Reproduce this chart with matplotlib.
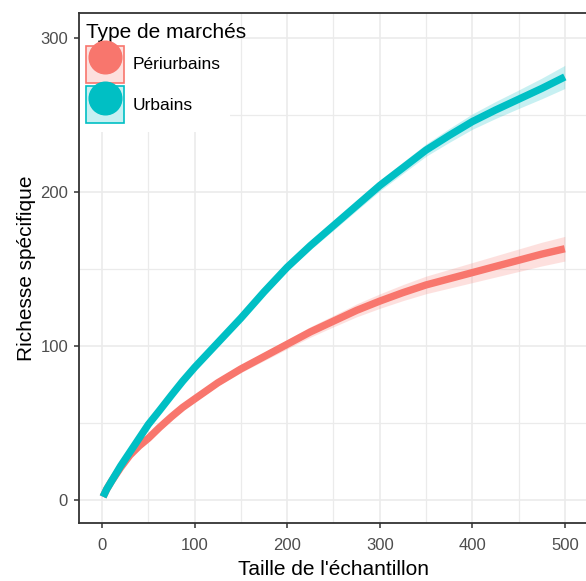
import numpy as np
import matplotlib
matplotlib.use("Agg")
import matplotlib.pyplot as plt
from matplotlib.patches import Patch, Rectangle
from matplotlib.lines import Line2D
from matplotlib.ticker import MultipleLocator

plt.rcParams['font.family'] = ['Liberation Sans', 'DejaVu Sans']

# rarefaction curves
sizes = [1, 5, 10, 20, 30, 40, 50, 62, 75, 87, 100, 125, 150, 175, 200,
         225, 250, 275, 300, 325, 350, 375, 400, 425, 450, 475, 500]

urb_mean = [2, 7, 12, 22, 31, 40, 49, 58, 68, 77, 86, 102, 118, 135, 151,
            165, 178, 191, 204, 215.5, 227, 236.5, 245.5, 253, 260, 267, 274.5]
urb_low = [2, 7, 12, 21.8, 30.7, 39.6, 48.5, 57.4, 67.2, 76, 84.8, 100.5, 116.2, 133, 148.5,
           162.3, 175, 187.8, 200.5, 211.8, 223, 232, 240.5, 247.5, 254, 260.3, 267]
urb_high = [2, 7, 12, 22.2, 31.3, 40.4, 49.5, 58.6, 68.8, 78, 87.2, 103.5, 119.8, 137, 153.5,
            167.7, 181, 194.2, 207.5, 219.2, 231, 241, 250.5, 258.5, 266, 273.7, 282]

peri_mean = [2, 7, 12, 21, 29, 35, 40, 47, 54, 60, 65.5, 76, 85, 93, 101,
             109, 116, 123, 129, 134.5, 139.5, 143.5, 147.5, 151.5, 155.5, 159.5, 163]
peri_low = [2, 7, 12, 20.7, 28.5, 34.4, 39.2, 46, 52.8, 58.6, 63.8, 74, 82.6, 90.3, 98,
            105.6, 112.3, 118.8, 124.3, 129.3, 133.8, 137.4, 141, 144.6, 148.2, 151.8, 155]
peri_high = [2, 7, 12, 21.3, 29.5, 35.6, 40.8, 48, 55.2, 61.4, 67.2, 78, 87.4, 95.7, 104,
             112.4, 119.7, 127.2, 133.7, 139.7, 145.2, 149.6, 154, 158.4, 162.8, 167.2, 171]

groups = ["Périurbains", "Urbains"]
colors = ["#F8766D", "#00BFC4"]

fig = plt.figure(figsize=(5.86, 5.81), dpi=100)
ax = fig.add_axes([79/586, 58/581, 508/586, 510/581])

ax.fill_between(sizes, peri_low, peri_high, color=colors[0], alpha=0.22, lw=0, zorder=2)
ax.fill_between(sizes, urb_low, urb_high, color=colors[1], alpha=0.22, lw=0, zorder=2)
ax.plot(sizes, peri_mean, color=colors[0], lw=5.3, solid_capstyle='butt', zorder=3)
ax.plot(sizes, urb_mean, color=colors[1], lw=5.3, solid_capstyle='butt', zorder=4)

ax.set_xlim(-25, 524)
ax.set_ylim(-15, 316)
ax.xaxis.set_major_locator(MultipleLocator(100))
ax.xaxis.set_minor_locator(MultipleLocator(50))
ax.yaxis.set_major_locator(MultipleLocator(100))
ax.yaxis.set_minor_locator(MultipleLocator(50))

ax.grid(True, which='major', color='#EBEBEB', lw=1.2, zorder=0)
ax.grid(True, which='minor', color='#EBEBEB', lw=0.9, zorder=0)
ax.set_axisbelow(True)

for s in ax.spines.values():
    s.set_color('#333333')
    s.set_linewidth(1.3)

ax.tick_params(which='major', length=3.6, width=1.1, color='#333333',
               labelsize=12, labelcolor='#4D4D4D', pad=4.3)
ax.tick_params(axis='x', which='major', pad=7.5)
ax.tick_params(which='minor', length=0)

ax.set_xlabel("Taille de l'échantillon", fontsize=15, color='black', labelpad=5)
ax.set_ylabel("Richesse spécifique", fontsize=15, color='black', labelpad=3)

# white legend background (narrower than the title, as in the reference)
ax.add_patch(Rectangle((0, 0.767), 0.297, 0.233, transform=ax.transAxes,
                       facecolor='white', edgecolor='none', zorder=1.5))

handles = []
for c in colors:
    handles.append((Patch(facecolor=c, alpha=0.22, edgecolor='none'),
                    Patch(facecolor='none', edgecolor=c, lw=1.2),
                    Line2D([], [], color=c, lw=0, marker='o', markersize=23.5)))

leg = ax.legend(handles, groups, loc='upper left', bbox_to_anchor=(2/508, 1 - 5/510),
                borderaxespad=0, title="Type de marchés", fontsize=12.5,
                title_fontsize=15, frameon=False,
                handlelength=2.15, handleheight=2.9, handletextpad=0.55,
                labelspacing=0.2, borderpad=0.3, alignment='left')
leg.set_zorder(5)

plt.savefig("out.png", dpi=100)
